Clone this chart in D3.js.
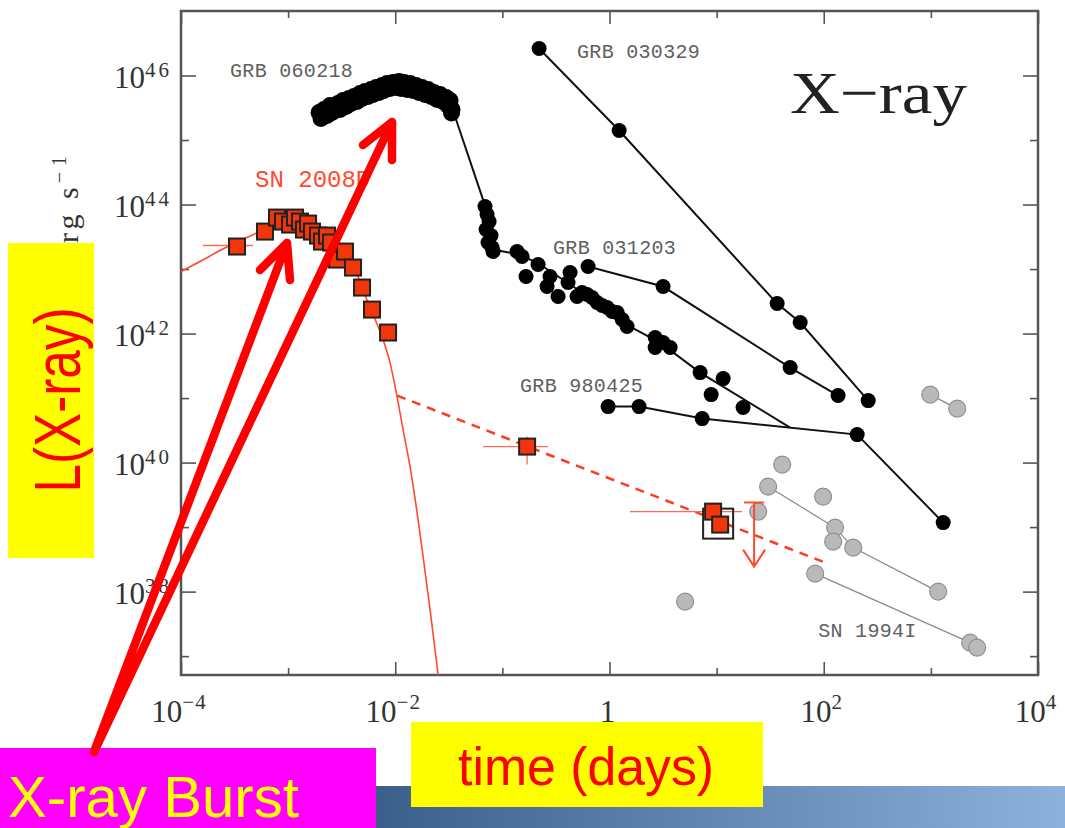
<!DOCTYPE html>
<html>
<head>
<meta charset="utf-8">
<script src="https://cdn.jsdelivr.net/npm/d3@7"></script>
<style>
  body { margin: 0; background: #fff; }
  svg { display: block; }
</style>
</head>
<body>
<div id="chart"></div>
<script>
// ---- axis ticks ----
const xMajor = [1e-4, 1e-2, 1, 1e2, 1e4];
const xMajorLabels = [["10", "−4"], ["10", "−2"], ["1", ""], ["10", "2"], ["10", "4"]];
const xMinor = [1e-3, 1e-1, 1e1, 1e3];
const yMajor = [1e38, 1e40, 1e42, 1e44, 1e46];
const yMajorLabels = [["10", "38"], ["10", "40"], ["10", "42"], ["10", "44"], ["10", "46"]];
const yMinor = [1e37, 1e39, 1e41, 1e43, 1e45];

// ---- data: [log10 time (days), log10 L (erg/s)] ----
const sn2008dPoints = [
  [-3.477, 43.349], [-3.216, 43.581], [-3.104, 43.798], [-3.048, 43.736], [-2.982, 43.690],
  [-2.936, 43.798], [-2.889, 43.736], [-2.852, 43.612], [-2.814, 43.705], [-2.777, 43.581],
  [-2.721, 43.519], [-2.684, 43.426], [-2.637, 43.519], [-2.599, 43.411], [-2.543, 43.147],
  [-2.469, 43.271], [-2.394, 43.023], [-2.310, 42.713], [-2.217, 42.372], [-2.067, 42.016]
];
const sn2008dModel = [
  [-4.000, 42.961], [-3.823, 43.116], [-3.636, 43.287], [-3.449, 43.442], [-3.262, 43.581],
  [-3.122, 43.674], [-2.982, 43.721], [-2.842, 43.705], [-2.702, 43.612], [-2.562, 43.442],
  [-2.422, 43.178], [-2.366, 42.961], [-2.310, 42.713], [-2.235, 42.403], [-2.114, 41.907],
  [-2.049, 41.550], [-1.983, 41.023], [-1.927, 40.512], [-1.862, 39.938], [-1.796, 39.225],
  [-1.740, 38.543], [-1.675, 37.721], [-1.600, 36.713]
];
const sn2008dDashed = [[-1.983, 41.039], [2.013, 38.450]];
const sn2008dLate = [[-0.769, 40.248], [0.967, 39.240], [1.033, 39.039]];
const sn2008dTimeErr = [[-3.795, -3.328, 43.365], [-1.180, -0.573, 40.248], [0.192, 1.238, 39.240]];
const sn2008dLumErr = [[-0.769, 39.969, 40.403]];
const sn2008dBox = [1.014, 39.054];
const sn2008dLimit = [1.350, 39.380, 38.388];

// GRB 060218: the dense early plateau, then the decay
const grb060218Peak = [
  [-2.711, 45.426], [-2.693, 45.333], [-2.665, 45.473], [-2.637, 45.380], [-2.609, 45.535],
  [-2.590, 45.426], [-2.562, 45.504], [-2.534, 45.566], [-2.515, 45.473], [-2.487, 45.612],
  [-2.459, 45.519], [-2.431, 45.643], [-2.413, 45.566], [-2.385, 45.674], [-2.357, 45.597],
  [-2.329, 45.721], [-2.310, 45.643], [-2.282, 45.752], [-2.254, 45.674], [-2.226, 45.783],
  [-2.207, 45.705], [-2.179, 45.814], [-2.151, 45.736], [-2.123, 45.845], [-2.105, 45.767],
  [-2.077, 45.876], [-2.049, 45.798], [-2.021, 45.891], [-1.993, 45.814], [-1.965, 45.907],
  [-1.946, 45.798], [-1.918, 45.891], [-1.890, 45.783], [-1.862, 45.876], [-1.834, 45.767],
  [-1.806, 45.845], [-1.778, 45.736], [-1.750, 45.814], [-1.722, 45.705], [-1.694, 45.783],
  [-1.666, 45.674], [-1.638, 45.736], [-1.610, 45.628], [-1.582, 45.705], [-1.554, 45.597],
  [-1.526, 45.659], [-1.507, 45.535], [-1.488, 45.612], [-1.470, 45.473], [-1.475, 45.420]
];
const grb060218Decay = [
  [-1.162, 43.969], [-1.143, 43.845], [-1.124, 43.736], [-1.152, 43.612], [-1.106, 43.519],
  [-1.134, 43.411], [-1.096, 43.333], [-1.087, 43.271], [-0.863, 43.271], [-0.816, 43.194],
  [-0.667, 43.070], [-0.779, 42.884], [-0.555, 42.884], [-0.583, 42.729], [-0.480, 42.574],
  [-0.368, 42.946], [-0.387, 42.791], [-0.303, 42.574], [-0.256, 42.636], [-0.209, 42.605],
  [-0.163, 42.558], [-0.116, 42.481], [-0.069, 42.434], [-0.022, 42.403], [0.024, 42.341],
  [0.071, 42.326], [0.118, 42.217], [0.164, 42.109], [0.426, 41.938], [0.426, 41.783],
  [0.500, 41.860], [0.566, 41.783], [0.846, 41.395], [1.061, 41.302], [0.949, 41.054],
  [1.247, 40.853]
];
const grb060218Line = [
  [-2.702, 45.395], [-2.515, 45.550], [-2.329, 45.690], [-2.142, 45.798], [-1.955, 45.845],
  [-1.768, 45.767], [-1.582, 45.643], [-1.470, 45.504], [-1.143, 43.891], [-1.087, 43.302],
  [-0.835, 43.225], [-0.648, 43.070], [-0.368, 42.760], [-0.088, 42.450], [0.192, 42.109],
  [0.472, 41.860], [0.846, 41.395], [1.686, 40.543]
];
const grb030329 = [[-0.657, 46.419], [0.090, 45.147], [1.565, 42.465], [1.780, 42.171], [2.415, 40.961]];
const grb031203 = [[-0.200, 43.039], [0.500, 42.729], [1.686, 41.473], [2.134, 41.039]];
const grb980425 = [[-0.013, 40.868], [0.276, 40.868], [0.865, 40.682], [2.312, 40.434], [3.115, 39.070]];

const sn1994iPoints = [
  [0.706, 37.845], [1.612, 39.969], [1.481, 39.628], [1.388, 39.240], [1.994, 39.473],
  [2.106, 38.992], [2.088, 38.775], [2.275, 38.682], [1.920, 38.279], [3.068, 38.000],
  [2.994, 41.054], [3.246, 40.837], [3.367, 37.209], [3.432, 37.132]
];
const sn1994iLines = [
  [[1.481, 39.628], [2.106, 38.992], [2.275, 38.682], [3.068, 38.000]],
  [[1.920, 38.279], [3.367, 37.209]],
  [[2.994, 41.054], [3.246, 40.837]]
];

const grbLabels = ["GRB 060218", "GRB 030329", "GRB 031203", "GRB 980425", "SN 1994I"];
const grbLabelAt = [[-3.542, 45.984], [-0.303, 46.279], [-0.527, 43.240], [-0.835, 41.101], [1.948, 37.302]];
const snLabel = "SN 2008D";
const snLabelAt = [-3.309, 44.279];

// ---- setup ----
const W = 1065, H = 828;
const plot = { left: 181, right: 1038, top: 11, bottom: 675 };

const svg = d3.select("#chart").append("svg")
  .attr("width", W).attr("height", H)
  .style("font-family", "'Liberation Serif', serif");

svg.append("rect").attr("width", W).attr("height", H).attr("fill", "#fff");

const x = d3.scaleLog().domain([1e-4, 1e4]).range([plot.left, plot.right]);
const y = d3.scaleLog().domain([5.1e36, 1e47]).range([plot.bottom, plot.top]);
const px = d => x(Math.pow(10, d[0]));
const py = d => y(Math.pow(10, d[1]));

const line = d3.line().x(px).y(py);
const smooth = d3.line().x(px).y(py).curve(d3.curveMonotoneX);

// ---- axes (ticks pointing inward) ----
function ticks(axis, transform, values, size) {
  svg.append("g")
    .attr("transform", transform)
    .call(axis.tickValues(values).tickSize(-size).tickFormat(""))
    .call(g => g.select(".domain").remove())
    .selectAll("line")
    .attr("stroke", "#555")
    .attr("stroke-width", 1.6);
}
ticks(d3.axisBottom(x), `translate(0,${plot.bottom})`, xMajor, 13);
ticks(d3.axisBottom(x), `translate(0,${plot.bottom})`, xMinor, 7);
ticks(d3.axisTop(x), `translate(0,${plot.top})`, xMajor, 13);
ticks(d3.axisTop(x), `translate(0,${plot.top})`, xMinor, 7);
ticks(d3.axisLeft(y), `translate(${plot.left},0)`, yMajor, 15);
ticks(d3.axisLeft(y), `translate(${plot.left},0)`, yMinor, 8);
ticks(d3.axisRight(y), `translate(${plot.right},0)`, yMajor, 15);
ticks(d3.axisRight(y), `translate(${plot.right},0)`, yMinor, 8);

svg.append("rect")
  .attr("x", plot.left).attr("y", plot.top)
  .attr("width", plot.right - plot.left).attr("height", plot.bottom - plot.top)
  .attr("fill", "none").attr("stroke", "#555").attr("stroke-width", 2.5);

// tick labels
svg.append("g").selectAll("text")
  .data(xMajor)
  .join("text")
  .attr("x", d => x(d) - 2)
  .attr("y", 722)
  .attr("text-anchor", "middle")
  .attr("fill", "#333")
  .attr("font-size", 31)
  .each(function (d, i) {
    const t = d3.select(this);
    t.append("tspan").text(xMajorLabels[i][0]);
    if (xMajorLabels[i][1]) {
      t.append("tspan").attr("dy", -13).attr("font-size", 21).attr("letter-spacing", 1).text(xMajorLabels[i][1]);
    }
  });

svg.append("g").selectAll("text")
  .data(yMajor)
  .join("text")
  .attr("x", plot.left - 9)
  .attr("y", d => y(d) + 12)
  .attr("text-anchor", "end")
  .attr("fill", "#333")
  .attr("font-size", 31)
  .each(function (d, i) {
    const t = d3.select(this);
    t.append("tspan").text(yMajorLabels[i][0]);
    t.append("tspan").attr("dy", -11).attr("font-size", 21).attr("letter-spacing", 3).text(yMajorLabels[i][1]);
  });

// y axis title (mostly hidden behind the slide box)
const yTitle = svg.append("text")
  .attr("transform", "translate(78,150) rotate(-90)")
  .attr("text-anchor", "end")
  .attr("fill", "#333")
  .attr("font-size", 30)
  .attr("letter-spacing", 4);
yTitle.append("tspan").text("Luminosity, erg s");
yTitle.append("tspan").attr("dy", -12).attr("font-size", 20).attr("letter-spacing", 6).text("−1");

// ---- SN 1994I and others (grey) ----
svg.append("g").selectAll("path")
  .data(sn1994iLines)
  .join("path")
  .attr("d", line)
  .attr("fill", "none")
  .attr("stroke", "#8a8a8a")
  .attr("stroke-width", 1.2);

svg.append("g").selectAll("circle")
  .data(sn1994iPoints)
  .join("circle")
  .attr("cx", px).attr("cy", py)
  .attr("r", 8.5)
  .attr("fill", "#b9b9b9")
  .attr("stroke", "#8f8f8f")
  .attr("stroke-width", 1.2);

// ---- SN 2008D (red) ----
svg.append("path")
  .datum(sn2008dDashed)
  .attr("d", line)
  .attr("fill", "none")
  .attr("stroke", "#ff3b1f")
  .attr("stroke-width", 2.5)
  .attr("stroke-dasharray", "9,7");

svg.append("path")
  .datum(sn2008dModel)
  .attr("d", smooth)
  .attr("fill", "none")
  .attr("stroke", "#ff4a2e")
  .attr("stroke-width", 1.6);

svg.append("g").selectAll("line")
  .data(sn2008dTimeErr)
  .join("line")
  .attr("x1", d => x(Math.pow(10, d[0])))
  .attr("x2", d => x(Math.pow(10, d[1])))
  .attr("y1", d => y(Math.pow(10, d[2])))
  .attr("y2", d => y(Math.pow(10, d[2])))
  .attr("stroke", "#ff6a55")
  .attr("stroke-width", 1.3);

svg.append("g").selectAll("line")
  .data(sn2008dLumErr)
  .join("line")
  .attr("x1", d => x(Math.pow(10, d[0])))
  .attr("x2", d => x(Math.pow(10, d[0])))
  .attr("y1", d => y(Math.pow(10, d[1])))
  .attr("y2", d => y(Math.pow(10, d[2])))
  .attr("stroke", "#ff6a55")
  .attr("stroke-width", 1.3);

// upper limit
const lx = x(Math.pow(10, sn2008dLimit[0]));
const ly1 = y(Math.pow(10, sn2008dLimit[1]));
const ly2 = y(Math.pow(10, sn2008dLimit[2]));
svg.append("path")
  .attr("d", `M${lx - 10},${ly1}H${lx + 10}M${lx},${ly1}V${ly2}M${lx - 11},${ly2 - 17}L${lx},${ly2}L${lx + 11},${ly2 - 17}`)
  .attr("fill", "none")
  .attr("stroke", "#ff4a2e")
  .attr("stroke-width", 2);

svg.append("rect")
  .attr("x", px(sn2008dBox) - 15).attr("y", py(sn2008dBox) - 15)
  .attr("width", 30).attr("height", 30)
  .attr("fill", "none").attr("stroke", "#222").attr("stroke-width", 2);

svg.append("g").selectAll("rect")
  .data(sn2008dPoints.concat(sn2008dLate))
  .join("rect")
  .attr("x", d => px(d) - 8)
  .attr("y", d => py(d) - 8)
  .attr("width", 16).attr("height", 16)
  .attr("fill", "#f2360c")
  .attr("stroke", "#222")
  .attr("stroke-width", 2);

// ---- GRBs (black) ----
svg.append("g").selectAll("path")
  .data([grb060218Line, grb030329, grb031203, grb980425])
  .join("path")
  .attr("d", line)
  .attr("fill", "none")
  .attr("stroke", "#111")
  .attr("stroke-width", 2);

svg.append("g").selectAll("circle")
  .data(grb060218Peak)
  .join("circle")
  .attr("cx", px).attr("cy", py)
  .attr("r", 8.5)
  .attr("fill", "#000");

svg.append("g").selectAll("circle")
  .data(grb060218Decay)
  .join("circle")
  .attr("cx", px).attr("cy", py)
  .attr("r", 7.5)
  .attr("fill", "#000");

svg.append("g").selectAll("circle")
  .data(grb030329.concat(grb031203, grb980425))
  .join("circle")
  .attr("cx", px).attr("cy", py)
  .attr("r", 7.5)
  .attr("fill", "#000");

// ---- labels ----
svg.append("g").selectAll("text")
  .data(grbLabels)
  .join("text")
  .attr("x", (d, i) => px(grbLabelAt[i]))
  .attr("y", (d, i) => py(grbLabelAt[i]))
  .attr("font-family", "'Liberation Mono', monospace")
  .attr("font-size", 20)
  .attr("letter-spacing", 0.3)
  .attr("fill", "#606060")
  .text(d => d);

svg.append("text")
  .attr("x", px(snLabelAt)).attr("y", py(snLabelAt))
  .attr("font-family", "'Liberation Mono', monospace")
  .attr("font-size", 24)
  .attr("fill", "#ff4a2e")
  .text(snLabel);

svg.append("text")
  .attr("x", 790).attr("y", 113)
  .attr("font-size", 60)
  .attr("textLength", 177)
  .attr("lengthAdjust", "spacingAndGlyphs")
  .attr("fill", "#222")
  .text("X−ray");

// ---- slide overlays ----
const grad = svg.append("defs").append("linearGradient").attr("id", "bar");
grad.append("stop").attr("offset", "0%").attr("stop-color", "#3c5e8b");
grad.append("stop").attr("offset", "100%").attr("stop-color", "#8db0dc");
svg.append("rect").attr("x", 375).attr("y", 786).attr("width", 690).attr("height", 42).attr("fill", "url(#bar)");

svg.append("rect").attr("x", 0).attr("y", 748).attr("width", 376).attr("height", 80).attr("fill", "#ff00ff");
svg.append("text")
  .attr("x", 8).attr("y", 817)
  .attr("font-family", "'Liberation Sans', Arial, sans-serif")
  .attr("font-size", 58)
  .attr("textLength", 291)
  .attr("lengthAdjust", "spacingAndGlyphs")
  .attr("fill", "#ffff00")
  .text("X-ray Burst");

svg.append("rect").attr("x", 411).attr("y", 722).attr("width", 352).attr("height", 85).attr("fill", "#ffff00");
svg.append("text")
  .attr("x", 458).attr("y", 785)
  .attr("font-family", "'Liberation Sans', Arial, sans-serif")
  .attr("font-size", 54)
  .attr("textLength", 256)
  .attr("lengthAdjust", "spacingAndGlyphs")
  .attr("fill", "#ff0000")
  .text("time (days)");

svg.append("rect").attr("x", 8).attr("y", 243).attr("width", 86).attr("height", 315).attr("fill", "#ffff00");
svg.append("text")
  .attr("transform", "translate(80,400) rotate(-90)")
  .attr("text-anchor", "middle")
  .attr("font-family", "'Liberation Sans', Arial, sans-serif")
  .attr("font-size", 64)
  .attr("textLength", 185)
  .attr("lengthAdjust", "spacingAndGlyphs")
  .attr("fill", "#ff0000")
  .text("L(X-ray)");

// arrows pointing at the two bursts
svg.append("path")
  .attr("d", "M94,752L287,243M260,270L287,243L290,280M94,752L392,122M363,145L392,122L392,160")
  .attr("fill", "none")
  .attr("stroke", "#ff0000")
  .attr("stroke-width", 8.5)
  .attr("stroke-linecap", "round")
  .attr("stroke-linejoin", "round");
</script>
</body>
</html>
